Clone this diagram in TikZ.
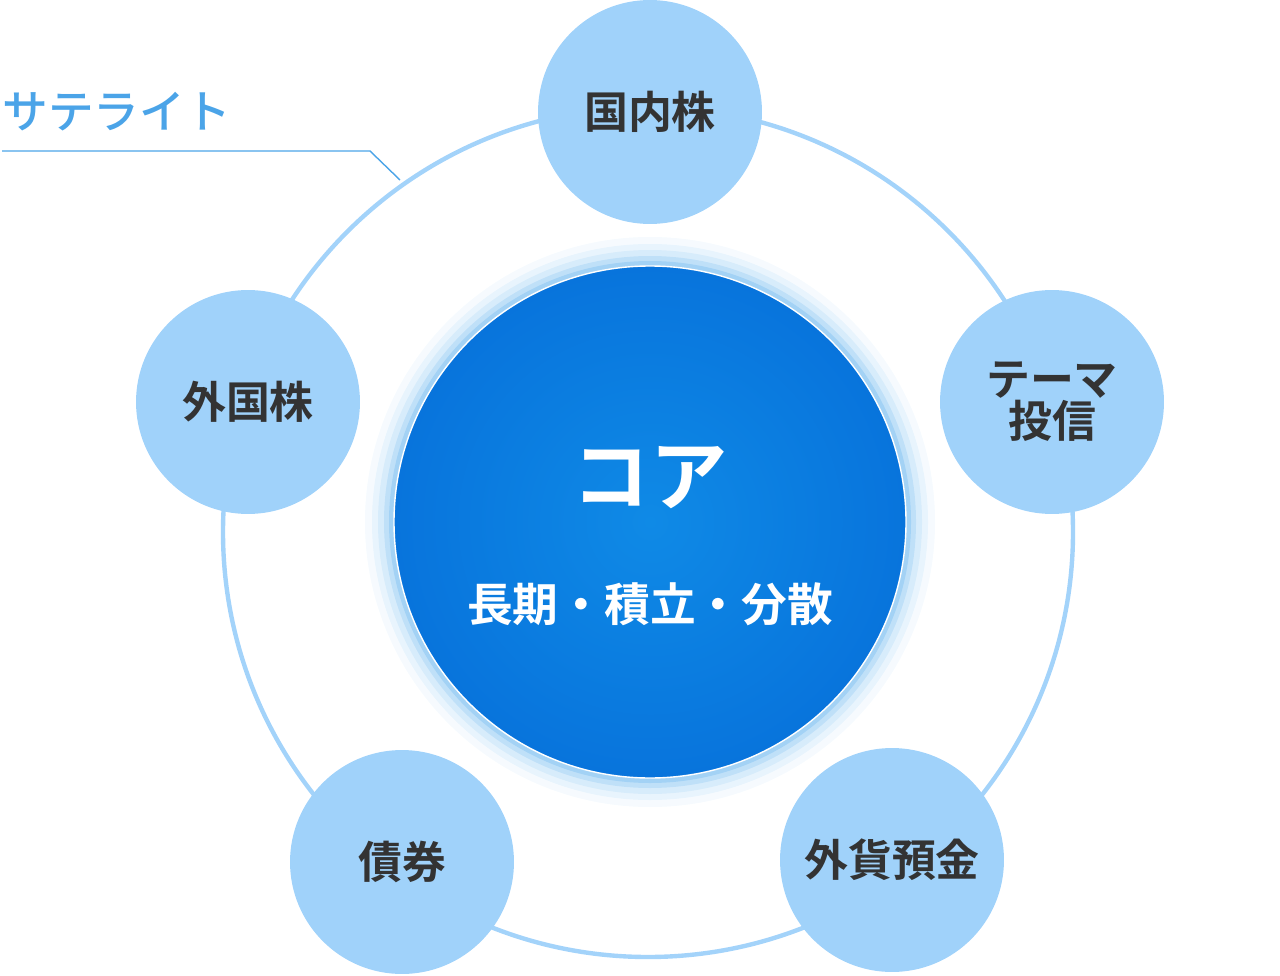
\documentclass[tikz,border=0pt]{standalone}
\usepackage{fontspec}
\setmainfont{Noto Sans CJK JP}[BoldFont={Noto Sans CJK JP Bold}]
\newfontfamily\jpb{Noto Sans CJK JP Bold}
\newfontfamily\jpm{Noto Sans CJK JP Medium}
\definecolor{ring}{HTML}{A3D3FA}
\definecolor{sat}{HTML}{A0D2FA}
\definecolor{coreA}{HTML}{0F8AE6}
\definecolor{coreB}{HTML}{0874DC}
\definecolor{txt}{HTML}{333333}
\definecolor{lbl}{HTML}{4BA4E8}
\begin{document}
\begin{tikzpicture}[x=0.02cm,y=-0.02cm,
  satnode/.style={circle,fill=sat,minimum size=4.48cm,inner sep=0pt,text=txt,font=\jpb\fontsize{25}{30}\selectfont,align=center},
]
\useasboundingbox (0,0) rectangle (1280,976);
\coordinate (rc) at (648,532);
\draw[ring,line width=2.5pt] (rc) circle[radius=425];
% glow
\foreach \r/\o in {285/0.04,278/0.06,272/0.08,266/0.12,261/0.16}
  \fill[coreA,opacity=\o] (650,522) circle[radius=\r];
\shade[inner color=coreA,outer color=coreB] (650,522) circle[radius=256];
\draw[white,line width=0.8pt] (650,522) circle[radius=256];
\node (core) at (650,478) {\textcolor{white}{\jpb\fontsize{44}{50}\selectfont コア}};
\node (sub) at (650,604) {\textcolor{white}{\jpb\fontsize{26}{30}\selectfont 長期・積立・分散}};
\node[satnode] (s1) at (650,112) {国内株};
\node[satnode] (s2) at (1052,402) {テーマ\\[-6pt]投信};
\node[satnode] (s3) at (892,860) {外貨預金};
\node[satnode] (s4) at (402,862) {債券};
\node[satnode] (s5) at (248,402) {外国株};
\node[anchor=west,text=lbl,inner sep=0pt] (lab) at (2,112) {\jpm\fontsize{26}{30}\selectfont サテライト};
\coordinate (l0) at (2,151);
\coordinate (l1) at (370,151);
\coordinate (l2) at (400,180);
\draw[lbl,line width=0.8pt] (l0) -- (l1) -- (l2);
\end{tikzpicture}
\end{document}
